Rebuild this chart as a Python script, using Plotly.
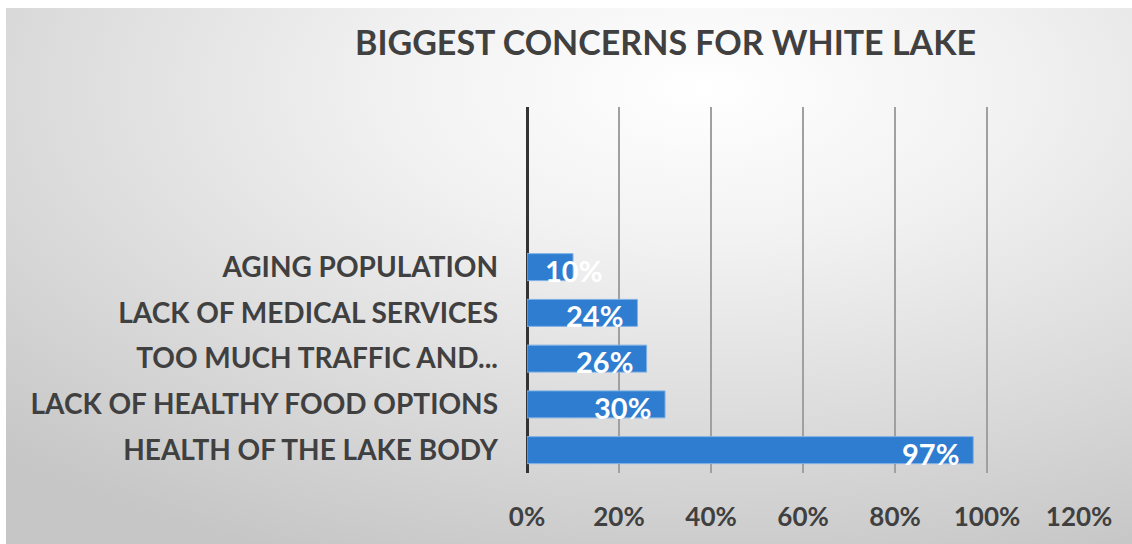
import plotly.graph_objects as go

# Survey results: share of respondents naming each concern
categories = [
    "HEALTH OF THE LAKE BODY",
    "LACK OF HEALTHY FOOD OPTIONS",
    "TOO MUCH TRAFFIC AND...",
    "LACK OF MEDICAL SERVICES",
    "AGING POPULATION",
]
shares = [0.97, 0.30, 0.26, 0.24, 0.10]

x_tick_values = [0, 0.2, 0.4, 0.6, 0.8, 1.0, 1.2]
x_tick_labels = ["0%", "20%", "40%", "60%", "80%", "100%", "120%"]

title_text = "BIGGEST CONCERNS FOR WHITE LAKE"

W, H = 1132, 544
TEXT = "#404040"
FONT = "Lato"
BAR = "#2e7dd0"

# plot area (paper fractions)
dom_x = [527 / W, 1080 / W]
dom_y = [1 - 473 / H, 1 - 107 / H]
n_slots = 8  # category slots on the axis; the upper ones stay empty

fig = go.Figure()

# soft radial backdrop on its own full-page subplot, drawn first
cx, cy, hx, hy = 0.62, 0.85, 0.9, 0.95
fig.add_trace(go.Scatter(
    x=[cx - hx, cx + hx, cx + hx, cx - hx, cx - hx],
    y=[cy - hy, cy - hy, cy + hy, cy + hy, cy - hy],
    mode="lines", line=dict(width=0), fill="toself",
    fillgradient=dict(type="radial",
                      colorscale=[[0, "#ffffff"], [0.3, "#f2f2f2"],
                                  [0.65, "#dcdcdc"], [1, "#c6c6c6"]]),
    hoverinfo="skip", showlegend=False, xaxis="x", yaxis="y",
))

ypos = list(range(len(categories)))
fig.add_trace(go.Bar(
    x=shares, y=ypos, orientation="h", width=0.59,
    marker=dict(color=BAR, line=dict(color="#7fb0e4", width=1)),
    hoverinfo="skip", showlegend=False, xaxis="x2", yaxis="y2",
))

# value labels near the bar ends
xrange = [0, 1.2]
plot_px = (dom_x[1] - dom_x[0]) * W
for v, yp in zip(shares, ypos):
    bar_px = v / (xrange[1] - xrange[0]) * plot_px
    fits = bar_px > 75
    fig.add_annotation(
        x=v, y=yp, xref="x2", yref="y2",
        text=f"{round(v * 100)}%", showarrow=False,
        xanchor="right" if fits else "center",
        xshift=-12 if fits else 0, yshift=-3,
        font=dict(family=FONT, size=29, color="white", weight="bold"),
    )

fig.add_annotation(
    x=665 / W, y=1 - 42 / H, xref="paper", yref="paper",
    text=title_text, showarrow=False, xanchor="center", yanchor="middle",
    font=dict(family=FONT, size=34, color=TEXT, weight="bold"),
)

fig.update_layout(
    width=W, height=H,
    margin=dict(l=0, r=0, t=0, b=0, autoexpand=False),
    paper_bgcolor="white",
    plot_bgcolor="rgba(0,0,0,0)",
    xaxis=dict(domain=[6 / W, 1], range=[0, 1], visible=False,
               fixedrange=True, automargin=False),
    yaxis=dict(domain=[0, 1 - 8 / H], range=[0, 1], visible=False,
               fixedrange=True, automargin=False),
    xaxis2=dict(
        domain=dom_x, anchor="y2", range=[xrange[0], xrange[1] + 0.002],
        tickvals=x_tick_values, ticktext=x_tick_labels, automargin=False,
        showgrid=True, gridcolor="#a0a0a0", gridwidth=1.5,
        zeroline=True, zerolinecolor="#333333", zerolinewidth=3,
        showline=False, ticks="", ticklabelstandoff=26,
        tickfont=dict(family=FONT, size=26, color=TEXT, weight="bold"),
    ),
    yaxis2=dict(
        domain=dom_y, anchor="x2", range=[-0.5, n_slots - 0.5],
        tickvals=ypos, ticktext=categories, automargin=False,
        showgrid=False, zeroline=False, showline=False, ticks="",
        ticklabelstandoff=28,
        tickfont=dict(family=FONT, size=28, color=TEXT, weight="bold"),
    ),
)

fig.write_html("out.html")
